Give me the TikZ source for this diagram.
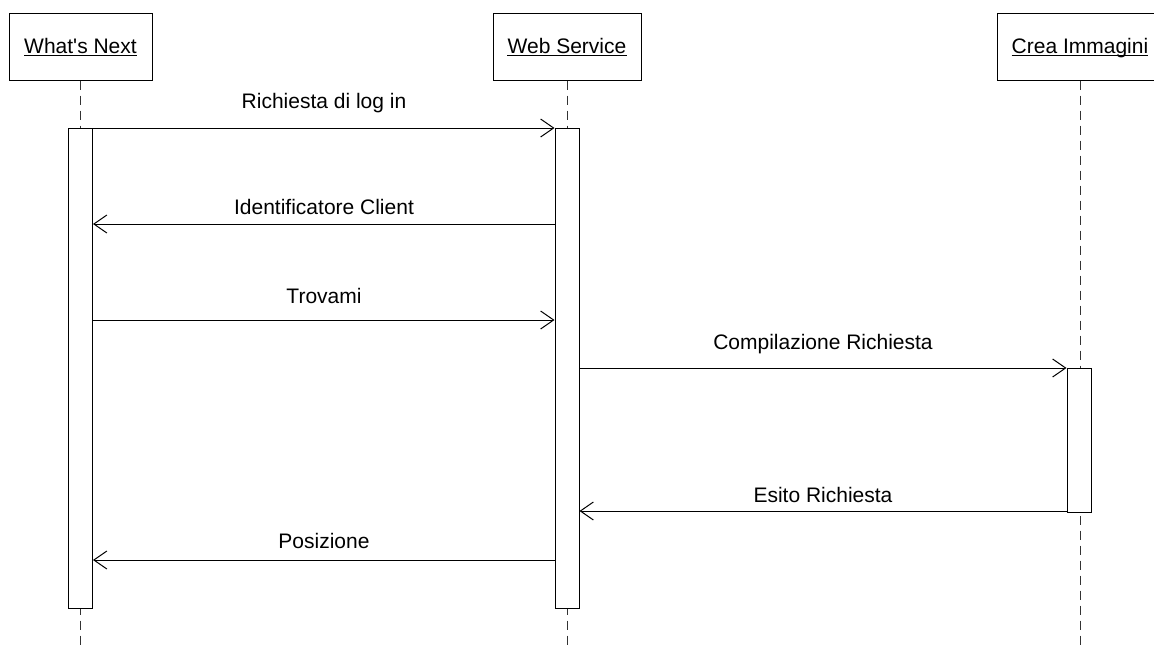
\documentclass[tikz,border=0pt]{standalone}
\usepackage{fontspec}
\setmainfont{Liberation Sans}
\usetikzlibrary{arrows.meta}
\tikzset{
  lbl/.style={inner sep=0pt, anchor=base, font=\fontsize{21}{25}\selectfont},
  head/.style={draw, line width=1pt, minimum height=67pt, inner sep=0pt},
  life/.style={line width=1pt, dash pattern=on 9pt off 6pt, draw=black!80},
  act/.style={draw, fill=white, line width=1pt, minimum width=24pt, inner sep=0pt},
  msg/.style={line width=1pt, -{Straight Barb[length=13pt,width=18pt,line width=1pt]}},
}
\begin{document}
\begin{tikzpicture}[x=1pt,y=-1pt]
\useasboundingbox (0,0) rectangle (1154,646);
\clip (0,0) rectangle (1154,646);
% header boxes
\node[head, minimum width=143pt] (h1) at (80.5,46.5) {};
\node[head, minimum width=148pt] (h2) at (567,46.5) {};
\node[head, minimum width=166pt] (h3) at (1080,46.5) {};
\node[lbl] (t1) at (80.5,53) {What\textquotesingle s Next};
\node[lbl] (t2) at (567,53) {Web Service};
\node[lbl] (t3) at (1080,53) {Crea Immagini};
\foreach \t in {t1,t2,t3}
  \draw[line width=1pt] ([yshift=-2.5pt]\t.base west) -- ([yshift=-2.5pt]\t.base east);
% lifelines
\coordinate (e1) at (80.5,646);
\coordinate (e2) at (567,646);
\coordinate (e3) at (1080,646);
\draw[life] (h1.south) -- (e1);
\draw[life] (h2.south) -- (e2);
\draw[life] (h3.south) -- (e3);
% activations
\node[act, minimum height=480pt] (a1) at (80.5,368) {};
\node[act, minimum height=480pt] (a2) at (567,368) {};
\node[act, minimum height=144pt] (a3) at (1079,440) {};
% messages
\coordinate (m1s) at (a1.east |- 0,128); \coordinate (m1e) at (a2.west |- 0,128);
\coordinate (m2s) at (a2.west |- 0,224); \coordinate (m2e) at (a1.east |- 0,224);
\coordinate (m3s) at (a1.east |- 0,320); \coordinate (m3e) at (a2.west |- 0,320);
\coordinate (m4s) at (a2.east |- 0,368); \coordinate (m4e) at (a3.west |- 0,368);
\coordinate (m5s) at (a3.west |- 0,511); \coordinate (m5e) at (a2.east |- 0,511);
\coordinate (m6s) at (a2.west |- 0,560); \coordinate (m6e) at (a1.east |- 0,560);
\draw[msg] (m1s) -- (m1e);
\draw[msg] (m2s) -- (m2e);
\draw[msg] (m3s) -- (m3e);
\draw[msg] (m4s) -- (m4e);
\draw[msg] (m5s) -- (m5e);
\draw[msg] (m6s) -- (m6e);
\node[lbl] (l1) at (324,108) {Richiesta di log in};
\node[lbl] (l2) at (324,214) {Identificatore Client};
\node[lbl] (l3) at (324,303) {Trovami};
\node[lbl] (l4) at (823,349) {Compilazione Richiesta};
\node[lbl] (l5) at (823,502) {Esito Richiesta};
\node[lbl] (l6) at (324,548) {Posizione};
\end{tikzpicture}
\end{document}
